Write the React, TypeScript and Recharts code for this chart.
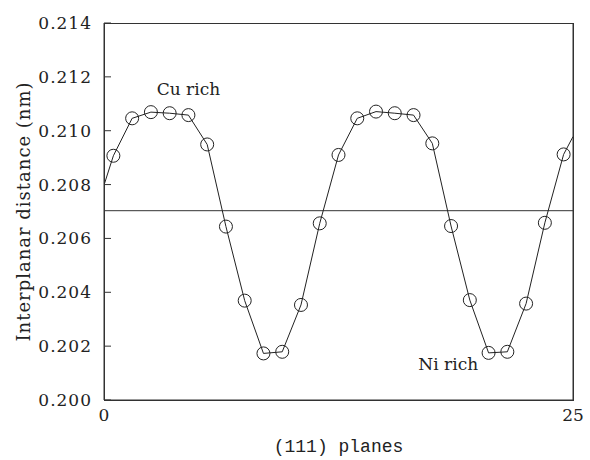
import React from 'react';
import * as Recharts from 'recharts';
import {
  ComposedChart,
  Line,
  Scatter,
  XAxis,
  YAxis,
  ReferenceLine,
  ReferenceDot,
  Label,
} from 'recharts';

// (111) plane index (x) and measured interplanar distance (nm)
const planes = [
  0.5, 1.5, 2.5, 3.5, 4.5, 5.5, 6.5, 7.5, 8.5, 9.5, 10.5, 11.5, 12.5,
  13.5, 14.5, 15.5, 16.5, 17.5, 18.5, 19.5, 20.5, 21.5, 22.5, 23.5, 24.5,
];
const distance = [
  0.20907, 0.21046, 0.21069, 0.21065, 0.21058, 0.20949, 0.20644, 0.20369,
  0.20173, 0.20179, 0.20353, 0.20656, 0.2091, 0.21046, 0.21071, 0.21065,
  0.21058, 0.20953, 0.20646, 0.20371, 0.20175, 0.20179, 0.20358, 0.20658,
  0.20912,
];
// curve ends at the frame edges
const curveStart = { plane: 0, distance: 0.20798 };
const curveEnd = { plane: 25, distance: 0.20978 };
const meanDistance = 0.20703;

const xDomain = [0, 25];
const yDomain = [0.2, 0.214];
const xTicks = [0, 25];
const yTicks = [0.2, 0.202, 0.204, 0.206, 0.208, 0.21, 0.212, 0.214];
const annotations = [
  { text: 'Cu rich', plane: 4.5, distance: 0.21155 },
  { text: 'Ni rich', plane: 18.35, distance: 0.20134 },
];

const points = planes.map((p, i) => ({ plane: p, distance: distance[i] }));
const curve = [curveStart, ...points, curveEnd];

const INK = '#222';
const FRAME = '#333';
const serif = 'DejaVu Serif';

const usePlotAreaSafe: () => any = (Recharts as any).usePlotArea ?? (() => null);

function Frame() {
  const area = usePlotAreaSafe();
  if (!area) return null;
  return (
    <rect
      x={area.x}
      y={area.y}
      width={area.width}
      height={area.height}
      fill="none"
      stroke={FRAME}
      strokeWidth={1}
      shapeRendering="crispEdges"
    />
  );
}

const Circle = (props: any) => {
  const { cx, cy } = props;
  if (cx == null || cy == null) return null;
  return <circle cx={cx} cy={cy} r={6.5} fill="none" stroke={INK} strokeWidth={1} />;
};

export default function App() {
  return (
    <div style={{ position: 'fixed', left: 0, top: 0, background: '#fff', width: 590, height: 460 }}>
      <ComposedChart
        width={590}
        height={460}
        margin={{ top: 0, right: 0, bottom: 0, left: 0 }}
      >
        <XAxis
          xAxisId="b"
          dataKey="plane"
          type="number"
          domain={xDomain}
          ticks={xTicks}
          allowDataOverflow
          height={60}
          tickLine={false}
          tickSize={6}
          tickMargin={3}
          axisLine={{ stroke: FRAME }}
          tick={{ fontFamily: serif, fontSize: 17, fill: INK }}
        >
          <Label
            value="(111) planes"
            position="insideBottom"
            offset={8}
            style={{ fontFamily: 'Liberation Mono', fontSize: 18, fill: INK }}
          />
        </XAxis>
        <XAxis
          xAxisId="t"
          orientation="top"
          type="number"
          domain={xDomain}
          allowDataOverflow
          height={23}
          tick={false}
          tickLine={false}
          axisLine={{ stroke: FRAME, shapeRendering: 'crispEdges' }}
        />
        <YAxis
          yAxisId="l"
          type="number"
          domain={yDomain}
          ticks={yTicks}
          allowDataOverflow
          width={104}
          tickLine={{ stroke: FRAME }}
          tickSize={-7}
          tickMargin={19}
          tickFormatter={(v: number) => v.toFixed(3)}
          axisLine={{ stroke: FRAME }}
          tick={{ fontFamily: serif, fontSize: 17, fill: INK, letterSpacing: 1 }}
        >
          <Label
            value="Interplanar distance (nm)"
            angle={-90}
            position="insideLeft"
            offset={24}
            style={{ textAnchor: 'middle', fontFamily: serif, fontSize: 18, fill: INK, letterSpacing: 1 }}
          />
        </YAxis>
        <YAxis
          yAxisId="r"
          orientation="right"
          type="number"
          domain={yDomain}
          ticks={yTicks}
          allowDataOverflow
          width={17}
          tick={false}
          tickSize={-6}
          tickLine={{ stroke: FRAME, shapeRendering: 'crispEdges' }}
          axisLine={{ stroke: FRAME }}
        />
        <Frame />
        <ReferenceLine
          xAxisId="b"
          yAxisId="l"
          y={yDomain[1]}
          stroke={FRAME}
          strokeWidth={1}
          shapeRendering="crispEdges"
          ifOverflow="visible"
        />
        <ReferenceLine
          xAxisId="b"
          yAxisId="l"
          y={meanDistance}
          stroke={FRAME}
          strokeWidth={1}
        />
        <Line
          xAxisId="b"
          yAxisId="l"
          data={curve}
          dataKey="distance"
          type="linear"
          stroke={INK}
          strokeWidth={1}
          dot={false}
          activeDot={false}
          isAnimationActive={false}
        />
        <Scatter
          xAxisId="b"
          yAxisId="l"
          data={points}
          dataKey="distance"
          shape={Circle}
          isAnimationActive={false}
        />
        {/* invisible series so the top and right frame axes are laid out */}
        <Line
          xAxisId="t"
          yAxisId="r"
          data={curve}
          dataKey="distance"
          stroke="none"
          dot={false}
          activeDot={false}
          isAnimationActive={false}
        />
        {annotations.map((a) => (
          <ReferenceDot
            key={a.text}
            xAxisId="b"
            yAxisId="l"
            x={a.plane}
            y={a.distance}
            r={0}
            fill="none"
            stroke="none"
            label={{
              value: a.text,
              position: 'center',
              style: { fontFamily: serif, fontSize: 17, fill: INK },
            }}
          />
        ))}
      </ComposedChart>
    </div>
  );
}
